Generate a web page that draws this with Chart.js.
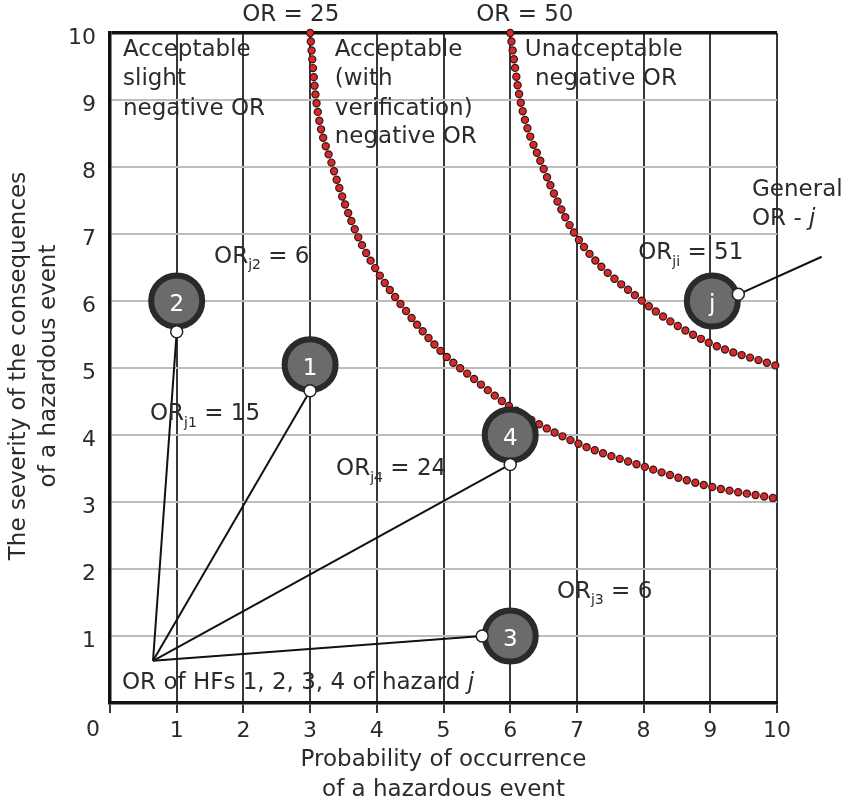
<!DOCTYPE html>
<html>
<head>
<meta charset="utf-8">
<title>OR of hazardous events</title>
<script src="https://cdn.jsdelivr.net/npm/chart.js@4.4.1/dist/chart.umd.min.js"></script>
<style>
  html, body { margin: 0; padding: 0; background: #fff; }
</style>
</head>
<body>
<canvas id="riskChart" width="851" height="807"></canvas>
<script>
// --- data ---
const tickValues = [0, 1, 2, 3, 4, 5, 6, 7, 8, 9, 10];

// OR = 25 boundary (red dotted curve)
const curve25X = [3, 3.09, 3.34, 3.7, 4.02, 4.32, 5, 5.44, 6, 7, 8, 9, 10];
const curve25Y = [10, 9, 8, 7, 6.42, 6, 5.21, 4.85, 4.42, 3.88, 3.53, 3.23, 3.05];

// OR = 50 boundary
const curve50X = [6, 6.15, 6.49, 6.97, 7.98, 8.95, 10];
const curve50Y = [10, 9, 8, 7, 6, 5.39, 5.03];

// hazard factors (big grey circles)
const factorNames = ["1", "2", "3", "4", "j"];
const factorX = [3, 1, 6, 6, 9.03];
const factorY = [5.05, 6, 1, 4, 6];

// small white pins where the lines attach
const pinX = [3, 1, 5.58, 6, 9.42];
const pinY = [4.66, 5.54, 1, 3.56, 6.1];

// common start point of the connector lines and end of the "General OR" pointer
const originX = 0.645, originY = 0.63;
const pointerX = 10.67, pointerY = 6.66;

// OR values written next to the factors
const orSubs = ["j2", "j1", "j4", "ji", "j3"];
const orValues = [6, 15, 24, 51, 6];

// --- label placement (data units) ---
const orLabelPos = [[1.56, 6.66], [0.6, 4.31], [3.39, 3.49], [7.92, 6.71], [6.7, 1.66]];
const zoneLabels = [
  { x: 0.195, y: [9.74, 9.31, 8.87], lines: ["Acceptable", "slight", "negative OR"] },
  { x: 3.37, y: [9.74, 9.31, 8.87, 8.44], lines: ["Acceptable", "(with", "verification)", "negative OR"] },
  { x: 6.22, y: [9.74], lines: ["Unacceptable"] },
  { x: 6.37, y: [9.31], lines: ["negative OR"] },
  { x: 9.625, y: [7.65], lines: ["General"] }
];

const FONT = "'DejaVu Sans', Verdana, sans-serif";
const TEXT = "#2b2b2b";

function pts(xs, ys) {
  return xs.map((x, i) => ({ x: x, y: ys[i] }));
}

// dotted curve = dark dots underneath, red dots on top
function dottedCurve(xs, ys, color, width, order) {
  return {
    type: "line",
    data: pts(xs, ys),
    borderColor: color,
    borderWidth: width,
    borderDash: [0, 8.8],
    borderCapStyle: "round",
    cubicInterpolationMode: "monotone",
    pointRadius: 0,
    fill: false,
    clip: false,
    order: order
  };
}

const datasets = [];

// pins (top)
datasets.push({
  data: pts(pinX, pinY),
  pointRadius: 6,
  pointBackgroundColor: "#ffffff",
  pointBorderColor: "#222",
  pointBorderWidth: 1.5,
  clip: false,
  order: 0
});

// big circles
datasets.push({
  data: pts(factorX, factorY),
  pointRadius: 25.5,
  pointBackgroundColor: "#6b6b6b",
  pointBorderColor: "#2a2a2a",
  pointBorderWidth: 6,
  clip: false,
  order: 1
});

// connector lines from the common point
for (let i = 0; i < 4; i++) {
  datasets.push({
    data: [{ x: originX, y: originY }, { x: pinX[i], y: pinY[i] }],
    showLine: true,
    borderColor: "#111",
    borderWidth: 2,
    pointRadius: 0,
    clip: false,
    order: 2
  });
}
// pointer to "General OR - j"
datasets.push({
  data: [{ x: pinX[4], y: pinY[4] }, { x: pointerX, y: pointerY }],
  showLine: true,
  borderColor: "#111",
  borderWidth: 2,
  pointRadius: 0,
  clip: false,
  order: 2
});

datasets.push(dottedCurve(curve25X, curve25Y, "#d42a2a", 6, 3));
datasets.push(dottedCurve(curve25X, curve25Y, "#3a1414", 8.4, 4));
datasets.push(dottedCurve(curve50X, curve50Y, "#d42a2a", 6, 3));
datasets.push(dottedCurve(curve50X, curve50Y, "#3a1414", 8.4, 4));

// text with subscript / italic runs
function drawRuns(ctx, x, y, runs) {
  let cx = x;
  runs.forEach(r => {
    ctx.font = r.font;
    ctx.fillText(r.t, cx, y + (r.dy || 0));
    cx += ctx.measureText(r.t).width;
  });
}

const textPlugin = {
  id: "textPlugin",
  afterDatasetsDraw(chart) {
    const ctx = chart.ctx;
    const xs = chart.scales.x, ys = chart.scales.y;
    const px = v => xs.getPixelForValue(v);
    const py = v => ys.getPixelForValue(v);
    const area = chart.chartArea;
    const big = "23px " + FONT;
    const sub = "14px " + FONT;
    const ital = "italic 23px " + FONT;

    ctx.save();
    ctx.fillStyle = TEXT;
    ctx.textBaseline = "middle";
    ctx.textAlign = "left";

    zoneLabels.forEach(z => {
      ctx.font = big;
      z.lines.forEach((l, i) => ctx.fillText(l, px(z.x), py(z.y[i])));
    });
    drawRuns(ctx, px(9.625), py(7.23), [{ t: "OR - ", font: big }, { t: "j", font: ital }]);
    drawRuns(ctx, px(0.18), py(0.3), [{ t: "OR of HFs 1, 2, 3, 4 of hazard ", font: big }, { t: "j", font: ital }]);

    orSubs.forEach((s, i) => {
      const p = orLabelPos[i];
      drawRuns(ctx, px(p[0]), py(p[1]), [
        { t: "OR", font: big },
        { t: s, font: sub, dy: 9 },
        { t: " = " + orValues[i], font: big }
      ]);
    });

    // boundary names above the frame
    ctx.textAlign = "center";
    ctx.font = big;
    ctx.fillText("OR = 25", px(2.71), py(10.27));
    ctx.fillText("OR = 50", px(6.22), py(10.27));

    // circle numbers
    ctx.fillStyle = "#ffffff";
    ctx.font = "23px " + FONT;
    factorNames.forEach((n, i) => ctx.fillText(n, px(factorX[i]), py(factorY[i]) + 4));

    // axis titles and corner zero
    ctx.fillStyle = TEXT;
    ctx.font = big;
    const cxMid = (area.left + area.right) / 2;
    ctx.fillText("Probability of occurrence", cxMid, area.bottom + 57);
    ctx.fillText("of a hazardous event", cxMid, area.bottom + 87);
    ctx.font = "22px " + FONT;
    ctx.fillText("0", area.left - 17, area.bottom + 27);

    ctx.translate(19, (area.top + area.bottom) / 2 - 2);
    ctx.rotate(-Math.PI / 2);
    ctx.font = big;
    ctx.fillText("The severity of the consequences", 0, 0);
    ctx.fillText("of a hazardous event", 0, 30);
    ctx.restore();
  }
};

new Chart(document.getElementById("riskChart"), {
  type: "scatter",
  data: { datasets: datasets },
  options: {
    responsive: false,
    animation: false,
    events: [],
    layout: { padding: { top: 33, right: 74, left: 0, bottom: 0 } },
    plugins: { legend: { display: false }, tooltip: { enabled: false } },
    scales: {
      x: {
        type: "linear",
        min: tickValues[0],
        max: tickValues[tickValues.length - 1],
        z: -1,
        afterFit: s => { s.height = 104; },
        afterBuildTicks: s => { s.ticks = tickValues.map(v => ({ value: v })); },
        ticks: {
          callback: v => (v === 0 ? "" : v),
          font: { family: FONT, size: 22 },
          color: TEXT,
          padding: 5
        },
        grid: {
          color: c => (c.tick && c.tick.value === 0 ? "rgba(0,0,0,0)" : "#383838"),
          lineWidth: 2,
          drawTicks: true,
          tickLength: 10,
          tickColor: "#383838"
        },
        border: { color: "#111", width: 3.5 }
      },
      y: {
        type: "linear",
        min: tickValues[0],
        max: tickValues[tickValues.length - 1],
        z: -2,
        afterFit: s => { s.width = 110; },
        afterBuildTicks: s => { s.ticks = tickValues.map(v => ({ value: v })); },
        ticks: {
          callback: v => (v === 0 ? "" : v),
          font: { family: FONT, size: 22 },
          color: TEXT,
          padding: 14,
          labelOffset: 5
        },
        grid: {
          color: c => (c.tick && c.tick.value === 10 ? "#111" : "#bdbdbd"),
          lineWidth: c => (c.tick && c.tick.value === 10 ? 3.5 : 2),
          drawTicks: false
        },
        border: { color: "#111", width: 3.5 }
      }
    }
  },
  plugins: [textPlugin]
});
</script>
</body>
</html>
